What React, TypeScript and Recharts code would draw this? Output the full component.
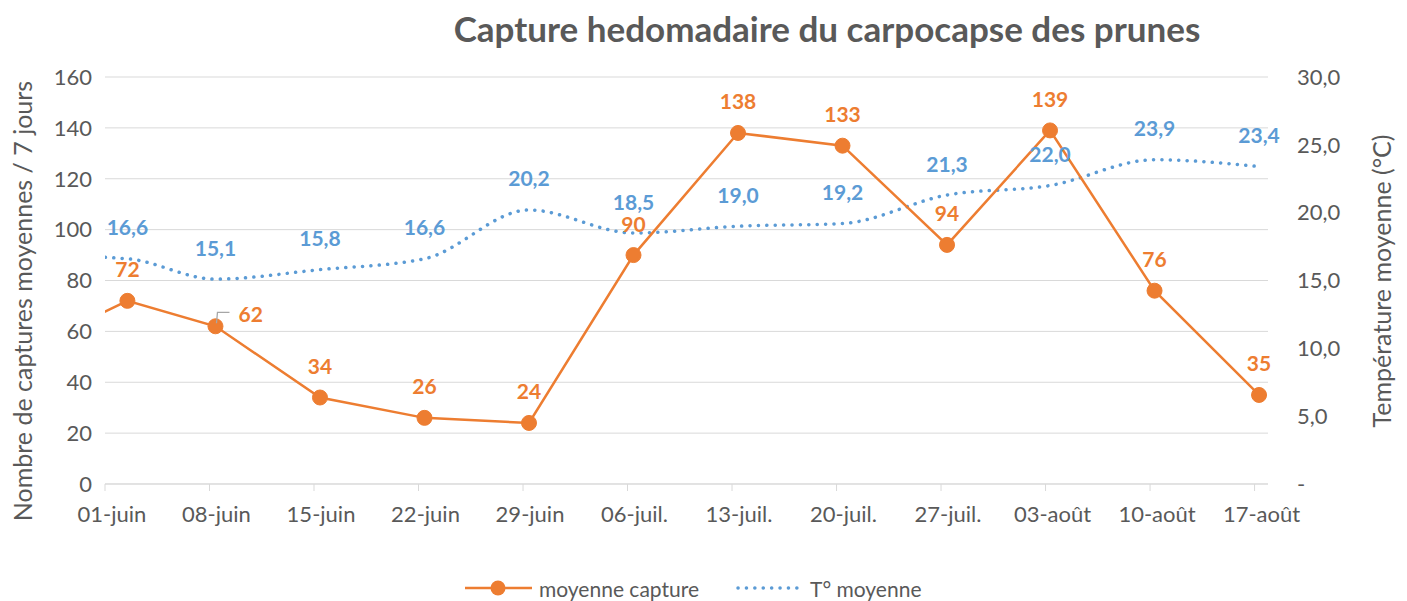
import { LineChart, Line, XAxis, YAxis, CartesianGrid, LabelList } from 'recharts';

// jours comptés depuis le 01-juin (le premier relevé, fin mai, sort du cadre)
const jours = [-5.6, 1.5, 7.4, 14.4, 21.4, 28.4, 35.4, 42.4, 49.4, 56.4, 63.3, 70.3, 77.3];
const captures = [52, 72, 62, 34, 26, 24, 90, 138, 133, 94, 139, 76, 35];
const temperatures = [16.9, 16.6, 15.1, 15.8, 16.6, 20.2, 18.5, 19.0, 19.2, 21.3, 22.0, 23.9, 23.4];

const ticksJours = [0, 7, 14, 21, 28, 35, 42, 49, 56, 63, 70, 77];
const etiquettesDates = ['01-juin', '08-juin', '15-juin', '22-juin', '29-juin', '06-juil.', '13-juil.', '20-juil.', '27-juil.', '03-août', '10-août', '17-août'];
const ticksCaptures = [0, 20, 40, 60, 80, 100, 120, 140, 160];
const ticksTemp = [0, 5, 10, 15, 20, 25, 30];

const ORANGE = '#ED7D31';
const BLEU = '#5B9BD5';
const GRIS = '#595959';
const FONT = 'Lato, Carlito, Calibri, sans-serif';

const data = jours.map((j, i) => ({ jour: j, capture: captures[i], temp: temperatures[i] }));

const virgule = (v: number) => v.toFixed(1).replace('.', ',');

function pos(props: any) {
  const x = props.x ?? props.viewBox?.x;
  const y = props.y ?? props.viewBox?.y;
  return { x, y };
}

const CaptureLabel = (props: any) => {
  const { index, value } = props;
  if (index === 0) return null;
  const { x, y } = pos(props);
  if (index === 2) {
    return (
      <g>
        <polyline points={`${x + 1},${y - 3} ${x + 2},${y - 14} ${x + 14},${y - 14}`} stroke="#a6a6a6" strokeWidth={1.3} fill="none" />
        <text x={x + 23} y={y - 13} dominantBaseline="central" fill={ORANGE} fontWeight="bold" fontSize={21} fontFamily={FONT}>{value}</text>
      </g>
    );
  }
  return (
    <text x={x} y={y - 32} textAnchor="middle" dominantBaseline="central" fill={ORANGE} fontWeight="bold" fontSize={21} fontFamily={FONT}>{value}</text>
  );
};

const TempLabel = (props: any) => {
  const { index, value } = props;
  if (index === 0) return null;
  const { x, y } = pos(props);
  return (
    <text x={x} y={y - 32} textAnchor="middle" dominantBaseline="central" fill={BLEU} fontWeight="bold" fontSize={21} fontFamily={FONT}>{virgule(value)}</text>
  );
};

const DateTick = (props: any) => {
  const { x, y, payload } = props;
  const i = ticksJours.indexOf(payload.value);
  return (
    <text x={x + 7} y={y} dy="0.71em" textAnchor="middle" fill={GRIS} fontSize={22} fontFamily={FONT}>{etiquettesDates[i]}</text>
  );
};

export default function App() {
  return (
    <div style={{ position: 'absolute', left: 0, top: 0, width: 1407, height: 601, background: '#fff', fontFamily: FONT }}>
      <LineChart width={1407} height={601} data={data} margin={{ top: 77, right: 39, bottom: 77, left: 40 }}>
        <CartesianGrid yAxisId="left" stroke="#d9d9d9" vertical={false} />
        <XAxis
          dataKey="jour"
          type="number"
          domain={[0, 77.9]}
          allowDataOverflow
          ticks={ticksJours}
          height={40}
          tick={<DateTick />}
          tickSize={7}
          tickMargin={15}
          tickLine={{ stroke: '#d9d9d9' }}
          axisLine={{ stroke: '#d9d9d9' }}
        />
        <YAxis
          yAxisId="left"
          width={65}
          domain={[0, 160]}
          ticks={ticksCaptures}
          tickLine={false}
          axisLine={false}
          tickMargin={7}
          tick={{ fill: GRIS, fontSize: 22, fontFamily: FONT }}
        />
        <YAxis
          yAxisId="right"
          orientation="right"
          width={100}
          domain={[0, 30]}
          ticks={ticksTemp}
          tickLine={false}
          axisLine={false}
          tickMargin={23}
          tickFormatter={(v: number) => (v === 0 ? '-' : virgule(v))}
          tick={{ fill: GRIS, fontSize: 22, fontFamily: FONT }}
        />
        <Line
          yAxisId="right"
          dataKey="temp"
          type="monotone"
          stroke={BLEU}
          strokeWidth={3.5}
          strokeDasharray="0.1 8.3"
          strokeLinecap="round"
          dot={false}
          activeDot={false}
          isAnimationActive={false}
        >
          <LabelList dataKey="temp" content={<TempLabel />} />
        </Line>
        <Line
          yAxisId="left"
          dataKey="capture"
          type="linear"
          stroke={ORANGE}
          strokeWidth={2.5}
          dot={{ r: 7.5, fill: ORANGE, stroke: ORANGE, strokeWidth: 1 }}
          activeDot={false}
          isAnimationActive={false}
        >
          <LabelList dataKey="capture" content={<CaptureLabel />} />
        </Line>
      </LineChart>
      <svg width={1407} height={601} style={{ position: 'absolute', left: 0, top: 0, pointerEvents: 'none' }}>
        <text x={827} y={28} textAnchor="middle" dominantBaseline="central" fill={GRIS} fontWeight="bold" fontSize={35} fontFamily={FONT}>
          Capture hedomadaire du carpocapse des prunes
        </text>
        <text transform="translate(22,301) rotate(-90)" textAnchor="middle" dominantBaseline="central" fill={GRIS} fontSize={25} fontFamily={FONT}>
          Nombre de captures moyennes / 7 jours
        </text>
        <text transform="translate(1381,281) rotate(-90)" textAnchor="middle" dominantBaseline="central" fill={GRIS} fontSize={25} fontFamily={FONT}>
          Température moyenne (°C)
        </text>
        <line x1={465} y1={588} x2={532} y2={588} stroke={ORANGE} strokeWidth={2.5} />
        <circle cx={498} cy={588} r={7.5} fill={ORANGE} />
        <text x={539} y={588} dominantBaseline="central" fill={GRIS} fontSize={21} fontFamily={FONT}>moyenne capture</text>
        <line x1={738} y1={588} x2={798} y2={588} stroke={BLEU} strokeWidth={3.5} strokeDasharray="0.1 8.3" strokeLinecap="round" />
        <text x={810} y={588} dominantBaseline="central" fill={GRIS} fontSize={21} fontFamily={FONT}>T° moyenne</text>
      </svg>
    </div>
  );
}
